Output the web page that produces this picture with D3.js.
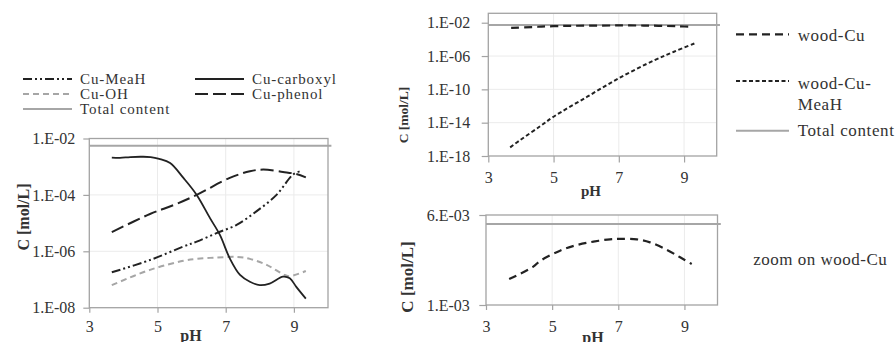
<!DOCTYPE html>
<html>
<head>
<meta charset="utf-8">
<script src="https://cdn.jsdelivr.net/npm/d3@7"></script>
<style>
  body { margin: 0; background: #fff; }
  svg { display: block; }
  svg text { font-family: "Liberation Serif", Tinos, "Times New Roman", "DejaVu Serif", serif; }
</style>
</head>
<body>
<svg id="chart" width="896" height="342"></svg>
<script>
// ---- Cu speciation vs pH (left panel, log scale) ----
const phCarboxyl = [3.66, 3.9, 4.2, 4.5, 4.8, 5.05, 5.37, 5.76, 6.15, 6.54, 6.83, 7.12, 7.42, 7.71, 8.0, 8.29, 8.68, 8.88, 9.07, 9.35];
const cuCarboxyl = [2.1e-3, 2.05e-3, 2.2e-3, 2.25e-3, 2.2e-3, 1.9e-3, 1.35e-3, 4.0e-4, 1.0e-4, 1.5e-5, 3.8e-6, 5.6e-7, 1.45e-7, 8.3e-8, 6.3e-8, 7.2e-8, 1.26e-7, 1.1e-7, 5.5e-8, 2.1e-8];

const phPhenol = [3.66, 4.78, 5.5, 6.15, 7.12, 7.71, 8.1, 8.68, 9.07, 9.35];
const cuPhenol = [4.8e-6, 2.1e-5, 4.5e-5, 1.0e-4, 4.0e-4, 6.9e-4, 7.9e-4, 6.5e-4, 5.5e-4, 4.2e-4];

const phMeaH = [3.66, 4.78, 5.76, 6.15, 6.73, 7.32, 7.9, 8.49, 8.97, 9.22];
const cuMeaH = [1.8e-7, 4.9e-7, 1.48e-6, 2.2e-6, 4.4e-6, 8.7e-6, 2.6e-5, 1.0e-4, 5.2e-4, 7.2e-4];

const phOH = [3.66, 4.78, 5.76, 6.15, 6.73, 7.32, 7.71, 8.2, 8.68, 8.85, 9.35];
const cuOH = [6.3e-8, 2.2e-7, 4.6e-7, 5.4e-7, 6.0e-7, 6.3e-7, 5.4e-7, 3.3e-7, 1.55e-7, 1.3e-7, 2.0e-7];

// ---- wood-bound Cu (right panels) ----
const phWoodCu = [3.7, 4.43, 4.63, 5.24, 5.74, 6.25, 6.75, 7.05, 7.56, 7.96, 8.47, 8.87, 9.22];
const woodCu = [2.44e-3, 3.13e-3, 3.44e-3, 4.02e-3, 4.33e-3, 4.52e-3, 4.65e-3, 4.67e-3, 4.65e-3, 4.48e-3, 4.06e-3, 3.65e-3, 3.28e-3];

const phWoodMeaH = [3.67, 3.98, 4.6, 5.0, 6.03, 7.05, 8.08, 8.69, 9.38];
const woodCuMeaH = [1.1e-17, 8.3e-17, 4.0e-15, 5.2e-14, 1.3e-11, 2.8e-9, 3.0e-7, 3.3e-6, 4.0e-5];

// total Cu content (horizontal reference)
const phTotal = [3, 10.1];
const totalContent = [5.5e-3, 5.5e-3];

// axes
const phDomain = [3, 10];
const phTicks = [3, 5, 7, 9];
const phGrid = [5, 7, 9];
const leftYTicks = [1e-2, 1e-4, 1e-6, 1e-8];
const topYTicks = [1e-2, 1e-6, 1e-10, 1e-14, 1e-18];
const zoomYTicks = [6e-3, 1e-3];

// legend labels
const leftLegend = [
  ["Cu-MeaH", "meah"], ["Cu-carboxyl", "carboxyl"],
  ["Cu-OH", "oh"], ["Cu-phenol", "phenol"],
  ["Total content", "total"]
];
const rightLegend = [["wood-Cu", "woodcu"], ["wood-Cu-", "woodmeah"], ["Total content", "total"]];

const BLACK = "#222";
const GREY = "#a6a6a6";
const STYLES = {
  carboxyl: { stroke: BLACK, width: 1.8, dash: null },
  phenol:   { stroke: BLACK, width: 2.0, dash: "13,5" },
  meah:     { stroke: BLACK, width: 2.0, dash: "9,3,2,3,2,3" },
  oh:       { stroke: GREY,  width: 2.0, dash: "6,4" },
  total:    { stroke: GREY,  width: 2.0, dash: null },
  woodcu:   { stroke: BLACK, width: 2.2, dash: "8,5" },
  woodmeah: { stroke: BLACK, width: 2.0, dash: "4,2.5" }
};

const svg = d3.select("#chart");

function sciLabel(d) {
  const e = Math.floor(Math.log10(d) + 1e-9);
  const m = Math.round(d / Math.pow(10, e));
  return m + ".E" + (e < 0 ? "-" : "+") + String(Math.abs(e)).padStart(2, "0");
}

function applyStyle(sel, key) {
  const s = STYLES[key];
  sel.attr("fill", "none")
    .attr("stroke", s.stroke)
    .attr("stroke-width", s.width)
    .attr("stroke-dasharray", s.dash);
}

function panel(cfg) {
  const g = svg.append("g");
  const x = d3.scaleLinear().domain(phDomain).range([cfg.left, cfg.right]);
  const y = cfg.y.range([cfg.bottom, cfg.top]);

  // grid lines
  g.selectAll("line.vg").data(phGrid).join("line")
    .attr("x1", d => x(d)).attr("x2", d => x(d))
    .attr("y1", cfg.top).attr("y2", cfg.bottom)
    .attr("stroke", "#ebebeb").attr("stroke-width", 1);
  g.selectAll("line.hg").data(cfg.yGrid).join("line")
    .attr("x1", cfg.left).attr("x2", cfg.right)
    .attr("y1", d => y(d)).attr("y2", d => y(d))
    .attr("stroke", "#ebebeb").attr("stroke-width", 1);

  // plot frame
  g.append("rect")
    .attr("x", cfg.left).attr("y", cfg.top)
    .attr("width", cfg.right - cfg.left).attr("height", cfg.bottom - cfg.top)
    .attr("fill", "none").attr("stroke", "#a3a3a3").attr("stroke-width", 1.3);

  // axes
  const ya = g.append("g").attr("transform", `translate(${cfg.left},0)`)
    .call(d3.axisLeft(y).tickValues(cfg.yTicks).tickFormat(sciLabel)
      .tickSize(cfg.yTick).tickPadding(cfg.yPad));
  const xa = g.append("g").attr("transform", `translate(0,${cfg.bottom})`)
    .call(d3.axisBottom(x).tickValues(phTicks).tickFormat(d3.format("d"))
      .tickSize(cfg.xTick).tickPadding(cfg.xPad));
  [ya, xa].forEach(a => {
    a.attr("font-family", null);
    a.select(".domain").remove();
    a.selectAll(".tick line").attr("stroke", "#a3a3a3").attr("stroke-width", 1.2);
    a.selectAll(".tick text").attr("fill", "#333").style("font-size", "16px");
  });

  // axis titles
  g.append("text")
    .attr("transform", `translate(${cfg.yTitle[0]},${cfg.yTitle[1]}) rotate(-90)`)
    .attr("text-anchor", "middle").attr("dominant-baseline", "central")
    .style("font-weight", "bold")
    .style("font-size", cfg.yTitleSize + "px").attr("fill", "#333")
    .text("C [mol/L]");
  g.append("text")
    .attr("x", cfg.xTitle[0]).attr("y", cfg.xTitle[1])
    .attr("text-anchor", "middle")
    .style("font-weight", "bold")
    .style("font-size", cfg.xTitleSize + "px").attr("fill", "#333")
    .text("pH");

  // series
  const line = d3.line().x(d => x(d[0])).y(d => y(d[1])).curve(d3.curveCatmullRom.alpha(0.5));
  cfg.series.forEach(([xs, ys, key]) => {
    g.append("path").datum(d3.zip(xs, ys)).attr("d", line).call(applyStyle, key);
  });
}

// left panel: complexes
panel({
  left: 89.3, right: 328, top: 138.5, bottom: 307.7,
  y: d3.scaleLog().domain([1e-8, 1e-2]),
  yTicks: leftYTicks, yGrid: [1e-4, 1e-6],
  yTick: 6, yPad: 8, xTick: 5, xPad: 7.5,
  yTitle: [23.5, 217], yTitleSize: 16,
  xTitle: [191, 341], xTitleSize: 16,
  series: [
    [phTotal, totalContent, "total"],
    [phOH, cuOH, "oh"],
    [phPhenol, cuPhenol, "phenol"],
    [phMeaH, cuMeaH, "meah"],
    [phCarboxyl, cuCarboxyl, "carboxyl"]
  ]
});

// top-right panel: wood-bound Cu
panel({
  left: 488.3, right: 716.7, top: 13.3, bottom: 156,
  y: d3.scaleLog().domain([1e-18, Math.pow(10, -0.87)]),
  yTicks: topYTicks, yGrid: [1e-6, 1e-10, 1e-14],
  yTick: 6.6, yPad: 11.5, xTick: 6.5, xPad: 9.5,
  yTitle: [403.5, 115], yTitleSize: 13.5,
  xTitle: [591, 196], xTitleSize: 15,
  series: [
    [phTotal, totalContent, "total"],
    [phWoodCu, woodCu, "woodcu"],
    [phWoodMeaH, woodCuMeaH, "woodmeah"]
  ]
});

// bottom-right panel: linear zoom on wood-Cu
panel({
  left: 486, right: 717.5, top: 215, bottom: 305,
  y: d3.scaleLinear().domain([1e-3, 6e-3]),
  yTicks: zoomYTicks, yGrid: [],
  yTick: 6.7, yPad: 9.5, xTick: 5, xPad: 10.5,
  yTitle: [407.5, 277], yTitleSize: 17,
  xTitle: [593, 343], xTitleSize: 16,
  series: [
    [phTotal, totalContent, "total"],
    [phWoodCu, woodCu, "woodcu"]
  ]
});

// legend of the left panel (two columns, three rows)
const lg = svg.append("g");
leftLegend.forEach(([label, key], i) => {
  const col = i === 4 ? 0 : i % 2;
  const row = Math.floor(i / 2);
  const x0 = col === 0 ? 23 : 195;
  const y0 = 79 + row * 15;
  lg.append("line").attr("x1", x0).attr("x2", x0 + 49).attr("y1", y0).attr("y2", y0).call(applyStyle, key);
  lg.append("text").attr("x", x0 + 57).attr("y", y0 + 5)
    .style("font-size", "15px").style("letter-spacing", "0.9px")
    .attr("fill", "#333").text(label);
});

// legend of the right panels
const rg = svg.append("g");
const rowY = [34.3, 81, 130.7];
const textY = [40.8, 89.3, 136.3];
rightLegend.forEach(([label, key], i) => {
  rg.append("line").attr("x1", 736).attr("x2", 789).attr("y1", rowY[i]).attr("y2", rowY[i]).call(applyStyle, key);
  rg.append("text").attr("x", 797.7).attr("y", textY[i])
    .style("font-size", "17px").style("letter-spacing", "0.6px")
    .attr("fill", "#333").text(label);
});
rg.append("text").attr("x", 797.7).attr("y", 110)
  .style("font-size", "17px").style("letter-spacing", "0.6px")
  .attr("fill", "#333").text("MeaH");
rg.append("text").attr("x", 753.3).attr("y", 264.5)
  .style("font-size", "17px").style("letter-spacing", "0.5px")
  .attr("fill", "#333").text("zoom on wood-Cu");
</script>
</body>
</html>
